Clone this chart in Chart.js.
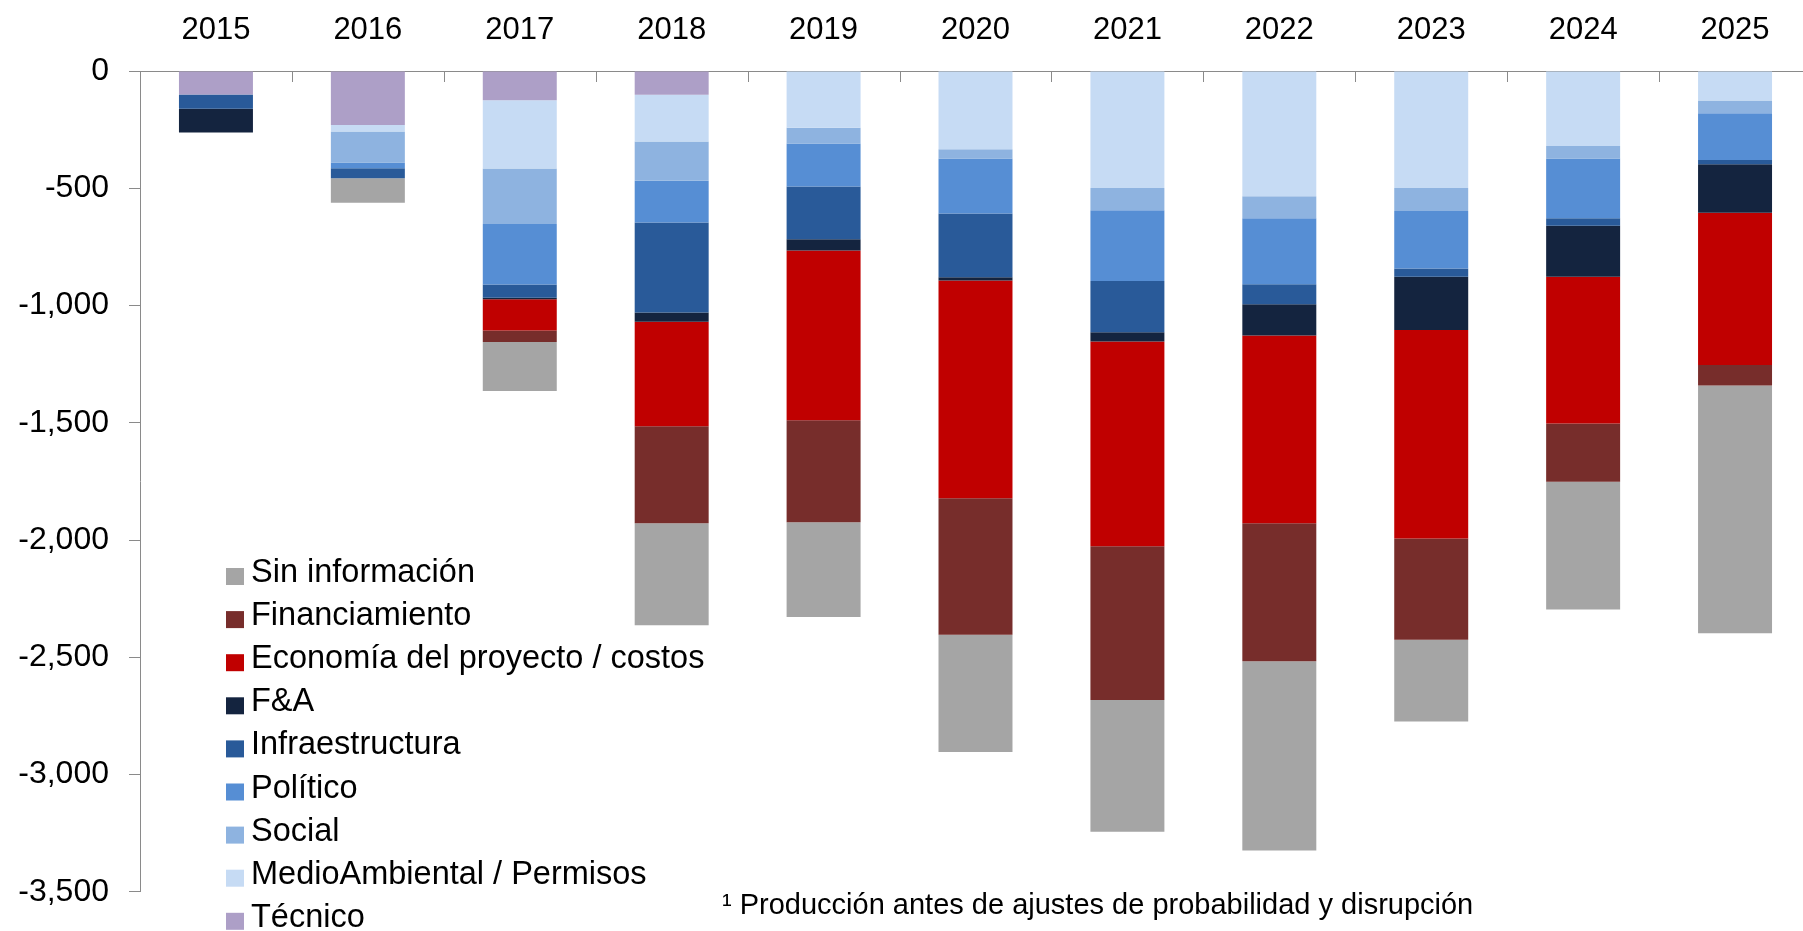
<!DOCTYPE html>
<html>
<head>
<meta charset="utf-8">
<script src="https://cdn.jsdelivr.net/npm/chart.js@4/dist/chart.umd.min.js"></script>
<style>
  html, body { margin: 0; padding: 0; background: #fff; overflow: hidden; }
  #wrap { width: 1811px; height: 931px; position: relative; }
</style>
</head>
<body>
<div id="wrap"><canvas id="myChart"></canvas></div>
<script>
// years along the top axis
var years = ['2015','2016','2017','2018','2019','2020','2021','2022','2023','2024','2025'];

// series, stacked from 0 downwards (first = closest to the axis)
var tecnico        = [-100, -230, -125, -101,    0,    0,    0,    0,    0,    0,     0];
var medioAmbiental = [   0,  -28, -291, -200, -242, -334, -499, -534, -499, -320,  -126];
var social         = [   0, -132, -236, -167,  -67,  -39,  -95,  -94,  -98,  -53,   -54];
var politico       = [   0,  -25, -258, -178, -184, -235, -301, -281, -245, -255,  -199];
var infraestructura= [ -61,  -42,  -57, -384, -224, -272, -219,  -86,  -35,  -32,   -19];
var fya            = [-101,    0,   -6,  -39,  -48,  -13,  -39, -133, -227, -217,  -206];
var economia       = [   0,    0, -134, -446, -724, -929, -873, -800, -889, -626,  -650];
var financiamiento = [   0,    0,  -49, -413, -435, -582, -656, -589, -432, -248,   -87];
var sinInformacion = [   0, -105, -209, -435, -404, -500, -562, -807, -349, -545, -1057];

var footnote = '\u00B9 Producción antes de ajustes de probabilidad y disrupción';

var FONT = '"Liberation Sans", Arial, sans-serif';

// legend drawn inside the plot, bottom-left, last series first
var legendPlugin = {
  id: 'insideLegend',
  afterDraw: function(chart) {
    var ctx = chart.ctx;
    var ds = chart.data.datasets;
    ctx.save();
    ctx.font = '32.5px ' + FONT;
    ctx.textBaseline = 'alphabetic';
    ctx.textAlign = 'left';
    var y0 = 582, step = 43.1;
    for (var i = 0; i < ds.length; i++) {
      var d = ds[ds.length - 1 - i];
      var y = y0 + i * step;
      ctx.fillStyle = d.backgroundColor;
      ctx.fillRect(226, y - 14, 18, 17);
      ctx.fillStyle = '#000';
      ctx.fillText(d.label, 251, y);
    }
    // footnote
    ctx.font = '29px ' + FONT;
    ctx.fillText(footnote, 722, 914);

    // small inward ticks on the top axis between the years
    var xs = chart.scales.x;
    var top = chart.chartArea.top;
    ctx.strokeStyle = '#8a8a8a';
    ctx.lineWidth = 1;
    for (var k = 1; k < years.length; k++) {
      var bx = Math.round((xs.getPixelForValue(k - 1) + xs.getPixelForValue(k)) / 2) + 0.5;
      ctx.beginPath();
      ctx.moveTo(bx, top);
      ctx.lineTo(bx, top + 11);
      ctx.stroke();
    }
    ctx.restore();
  }
};

new Chart('myChart', {
  type: 'bar',
  data: {
    labels: years,
    datasets: [
      { label: 'Técnico', data: tecnico, backgroundColor: '#ad9fc7' },
      { label: 'MedioAmbiental / Permisos', data: medioAmbiental, backgroundColor: '#c6dbf4' },
      { label: 'Social', data: social, backgroundColor: '#8eb3e0' },
      { label: 'Político', data: politico, backgroundColor: '#568ed4' },
      { label: 'Infraestructura', data: infraestructura, backgroundColor: '#295a99' },
      { label: 'F&A', data: fya, backgroundColor: '#14243f' },
      { label: 'Economía del proyecto / costos', data: economia, backgroundColor: '#c00000' },
      { label: 'Financiamiento', data: financiamiento, backgroundColor: '#772d2b' },
      { label: 'Sin información', data: sinInformacion, backgroundColor: '#a5a5a5' }
    ]
  },
  options: {
    responsive: true,
    maintainAspectRatio: false,
    animation: false,
    layout: { padding: { top: 0, left: 0, right: 0, bottom: 26 } },
    datasets: { bar: { barPercentage: 0.487, categoryPercentage: 1.0, borderWidth: 0 } },
    plugins: {
      legend: { display: false },
      tooltip: { enabled: false }
    },
    scales: {
      x: {
        position: 'top',
        stacked: true,
        grid: { display: false, drawTicks: false },
        border: { display: true, color: '#8a8a8a', width: 1 },
        ticks: { color: '#000', font: { family: FONT, size: 31 }, padding: 22, maxRotation: 0 },
        afterFit: function(s) { s.height = 71; }
      },
      y: {
        stacked: true,
        min: -3500,
        max: 0,
        grid: { display: true, drawOnChartArea: false, drawTicks: true, tickLength: 11, color: '#8a8a8a' },
        border: { display: true, color: '#8a8a8a', width: 1 },
        ticks: {
          stepSize: 500,
          color: '#000',
          padding: 20,
          font: { family: FONT, size: 32 },
          callback: function(v) { return Number(v).toLocaleString('en-US'); }
        },
        afterFit: function(s) { s.width = 140; }
      }
    }
  },
  plugins: [legendPlugin]
});
</script>
</body>
</html>
